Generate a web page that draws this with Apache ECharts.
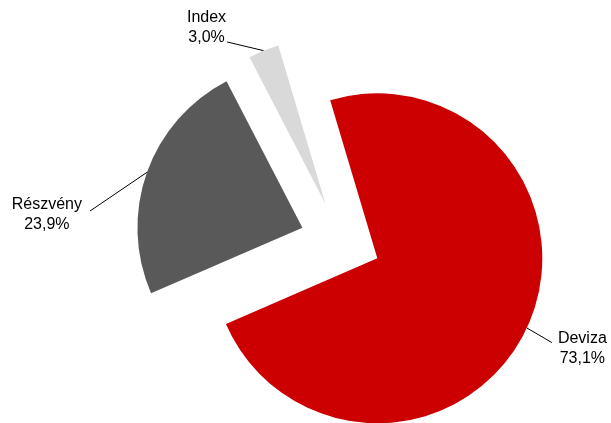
<!DOCTYPE html>
<html>
<head>
<meta charset="utf-8">
<script src="https://cdn.jsdelivr.net/npm/echarts@6/dist/echarts.min.js"></script>
<style>
html,body{margin:0;padding:0;background:#fff;}
#main{width:611px;height:423px;}
</style>
</head>
<body>
<div id="main"></div>
<script>
// adatok
var kategoriak = ['Deviza', 'Részvény', 'Index'];
var ertekek = [73.1, 23.9, 3.0];
var szinek = ['#CC0000', '#595959', '#D9D9D9'];

// elrendezes
var kozep = [340.6, 241.2];
var sugar = 165;
var kiemeles = 40.5;
var kezdoSzog = 106.6;
// cimke: vonal vege a szelethez kepest (dx, dy), szoveg tavolsag, fuggoleges eltolas
var cimkeEltolas = [[25, 14.6, 6, 6], [-57, 38.7, -8, 3.5], [-36.5, -8.7, -1, -14.2]];

var osszeg = ertekek.reduce(function(a, b){ return a + b; }, 0);
var myChart = echarts.init(document.getElementById('main'));

function fmtSzazalek(v){
	return v.toFixed(1).replace('.', ',') + '%';
}

function cimkeHelyzet(p){
	var pts = p.labelLinePoints;
	if (!pts || !pts.length) return {};
	var e = cimkeEltolas[p.dataIndex];
	var vege = [pts[0][0] + e[0], pts[0][1] + e[1]];
	return {
		x: vege[0] + e[2],
		y: vege[1] + e[3],
		labelLinePoints: [pts[0], vege]
	};
}

var series = [];
var kum = 0;
for (var i = 0; i < kategoriak.length; i++){
	var mid = (kezdoSzog - (kum + ertekek[i] / 2) / osszeg * 360) * Math.PI / 180;
	kum += ertekek[i];
	var cx = kozep[0] + Math.cos(mid) * kiemeles;
	var cy = kozep[1] - Math.sin(mid) * kiemeles;
	series.push({
		type: 'pie',
		center: [cx, cy],
		radius: sugar,
		startAngle: kezdoSzog,
		clockwise: true,
		avoidLabelOverlap: false,
		silent: true,
		emphasis: {disabled: true},
		itemStyle: {borderWidth: 0},
		label: {
			position: 'outside',
			verticalAlign: 'middle',
			formatter: function(p){
				return '{t|' + p.name + '}\n{t|' + fmtSzazalek(p.value) + '}';
			},
			rich: {
				t: {align: 'center', fontSize: 16, lineHeight: 20, fontFamily: 'Liberation Sans', color: '#000'}
			}
		},
		labelLine: {length: 10, length2: 10, lineStyle: {color: '#000', width: 1}},
		labelLayout: cimkeHelyzet,
		data: kategoriak.map(function(n, j){
			var lathato = (j === i);
			return {
				name: n,
				value: ertekek[j],
				itemStyle: {color: lathato ? szinek[j] : 'rgba(0,0,0,0)'},
				label: {show: lathato},
				labelLine: {show: lathato}
			};
		})
	});
}

var option = {
	backgroundColor: '#fff',
	animation: false,
	series: series
};
myChart.setOption(option);
</script>
</body>
</html>
